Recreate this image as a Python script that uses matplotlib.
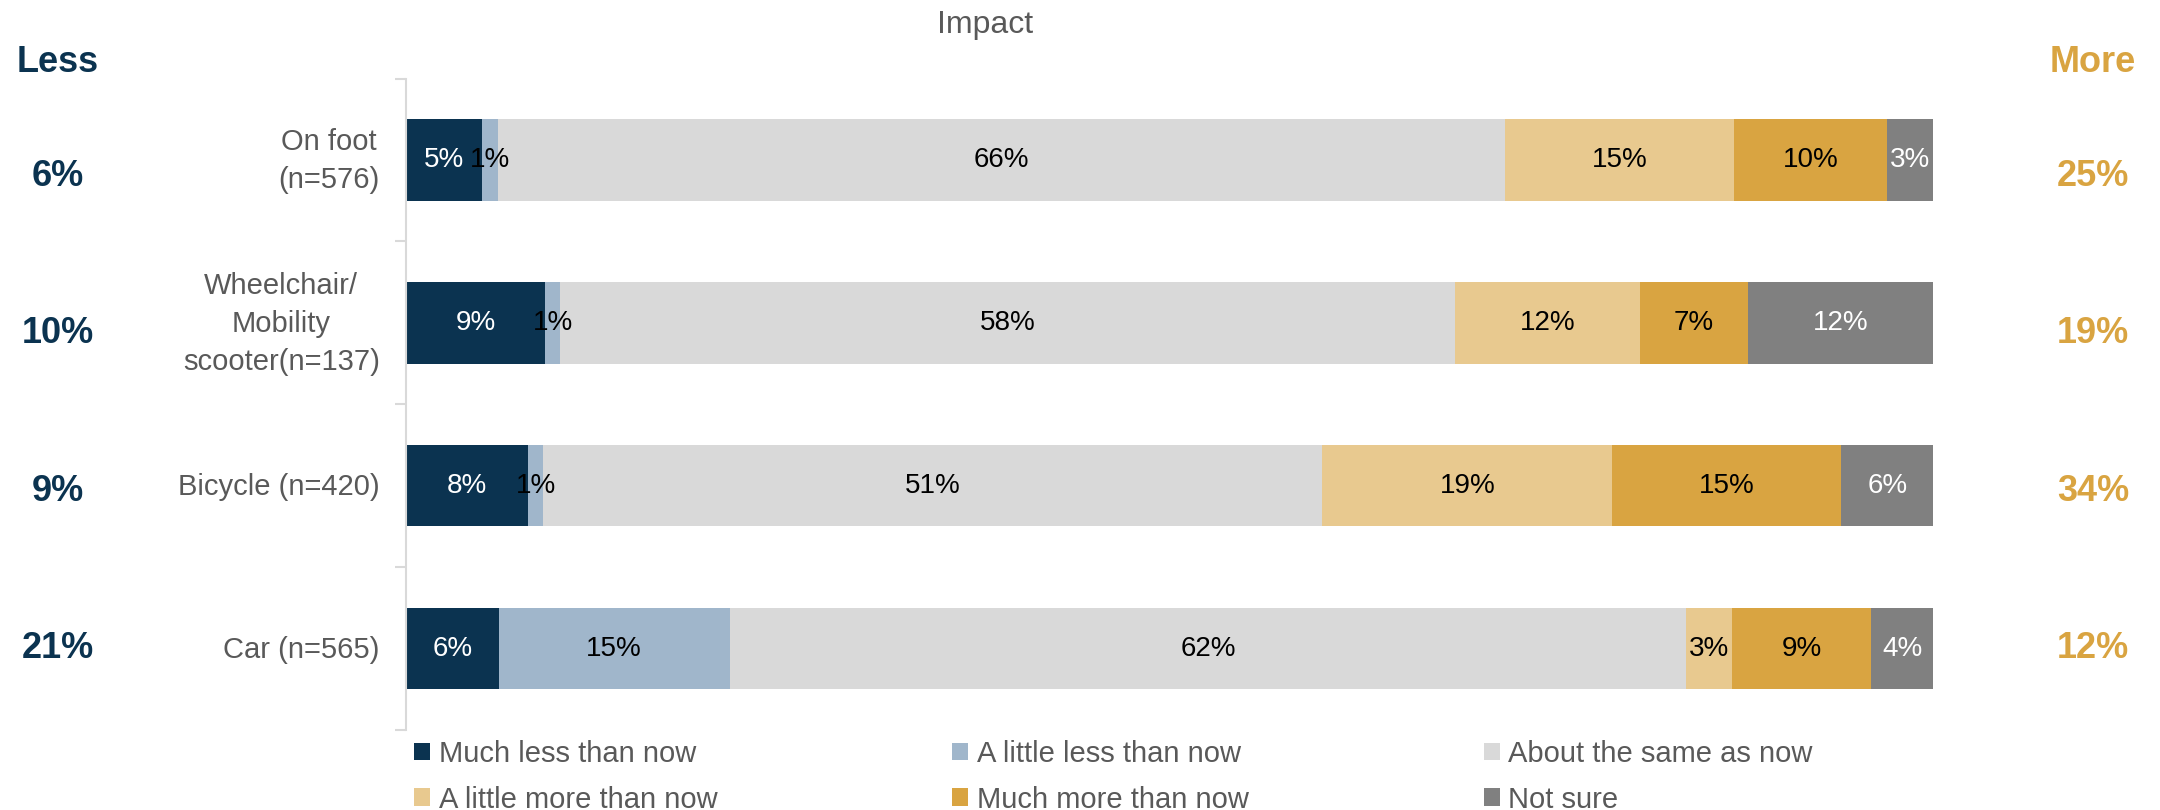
import matplotlib
matplotlib.use("Agg")
import matplotlib.pyplot as plt
from matplotlib.patches import Patch

plt.rcParams["font.family"] = ["Liberation Sans", "DejaVu Sans"]

# data
categories = ["On foot\n(n=576)", "Wheelchair/\nMobility\nscooter(n=137)",
              "Bicycle (n=420)", "Car (n=565)"]
responses = ["Much less than now", "A little less than now", "About the same as now",
             "A little more than now", "Much more than now", "Not sure"]
much_less = [5, 9, 8, 6]
little_less = [1, 1, 1, 15]
same = [66, 58, 51, 62]
little_more = [15, 12, 19, 3]
much_more = [10, 7, 15, 9]
not_sure = [3, 12, 6, 4]

series = [much_less, little_less, same, little_more, much_more, not_sure]
colors = ["#0B3350", "#A0B6CB", "#D9D9D9", "#E8C98F", "#D9A441", "#808080"]
text_colors = ["white", "black", "black", "black", "black", "white"]
NAVY, GOLD, GREY_TXT = "#0B3350", "#D9A441", "#595959"

W, H = 2160, 810
fig = plt.figure(figsize=(W / 100, H / 100), dpi=100)
ax = fig.add_axes([406 / W, 1 - 730 / H, (1933 - 406) / W, (730 - 78.5) / H])

# each row is drawn as a share of its own total so all bars span the full width
totals = [sum(s[i] for s in series) for i in range(len(categories))]
lefts = [0.0] * len(categories)
for vals, col, tcol in zip(series, colors, text_colors):
    widths = [v / t * 100 for v, t in zip(vals, totals)]
    ax.barh(range(len(categories)), widths, left=lefts, height=0.5,
            color=col, edgecolor="none")
    for i, (v, w) in enumerate(zip(vals, widths)):
        ax.text(lefts[i] + w / 2, i, f"{v}%", ha="center", va="center",
                fontsize=20, color=tcol)
    lefts = [l + w for l, w in zip(lefts, widths)]

ax.set_xlim(0, 100)
ax.set_ylim(len(categories) - 0.5, -0.5)
ax.set_xticks([])
ax.set_yticks([i - 0.5 for i in range(len(categories) + 1)])
ax.set_yticklabels([])
ax.tick_params(axis="y", length=8, width=1.5, color="#D9D9D9")
for side in ("top", "right", "bottom"):
    ax.spines[side].set_visible(False)
ax.spines["left"].set_color("#D9D9D9")
ax.spines["left"].set_linewidth(1.5)

for i, cat in enumerate(categories):
    ax.annotate(cat, xy=(0, i), xycoords=("axes fraction", "data"),
                xytext=(-19, -1), textcoords="offset points",
                ha="right", va="center", multialignment="center",
                linespacing=1.45, fontsize=21, color=GREY_TXT)

# less / more summary columns
less = [a + b for a, b in zip(much_less, little_less)]
more = [a + b for a, b in zip(little_more, much_more)]
fig.text(58 / W, 1 - 62 / H, "Less", ha="center", va="center",
         fontsize=26, fontweight="bold", color=NAVY)
fig.text(2093 / W, 1 - 62 / H, "More", ha="center", va="center",
         fontsize=26, fontweight="bold", color=GOLD)
for i in range(len(categories)):
    y = 1 - (176 + i * 157.6) / H
    fig.text(58 / W, y, f"{less[i]}%", ha="center", va="center",
             fontsize=26, fontweight="bold", color=NAVY)
    fig.text(2093 / W, y, f"{more[i]}%", ha="center", va="center",
             fontsize=26, fontweight="bold", color=GOLD)

fig.text(985 / W, 1 - 25 / H, "Impact", ha="center", va="center",
         fontsize=23, color=GREY_TXT)

# legend filled row by row
handles = [Patch(facecolor=c, edgecolor="none") for c in colors]
order = [0, 3, 1, 4, 2, 5]
fig.legend([handles[k] for k in order], [responses[k] for k in order],
           loc="upper left", bbox_to_anchor=(414 / W, 1 - 740 / H), ncol=3,
           frameon=False, fontsize=21, labelcolor=GREY_TXT,
           handlelength=0.55, handleheight=0.55, handletextpad=0.3,
           columnspacing=8.05, labelspacing=0.6, borderpad=0, borderaxespad=0)

fig.savefig("out.png", dpi=100)
